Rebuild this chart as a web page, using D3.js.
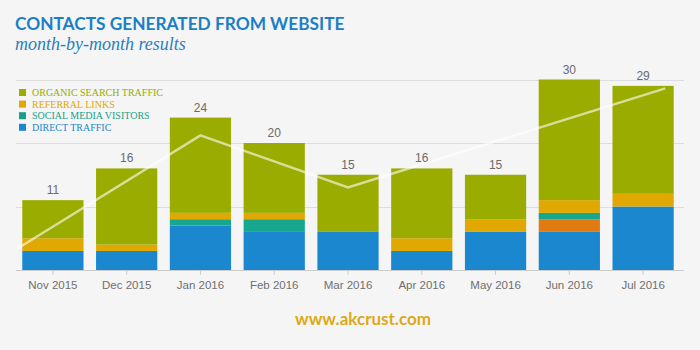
<!DOCTYPE html>
<html>
<head>
<meta charset="utf-8">
<script src="https://cdn.jsdelivr.net/npm/d3@7"></script>
<style>
  html, body { margin: 0; padding: 0; background: #f5f5f5; }
  svg { display: block; }
</style>
</head>
<body>
<div id="chart"></div>
<script>
// data
const months = ['Nov 2015', 'Dec 2015', 'Jan 2016', 'Feb 2016', 'Mar 2016', 'Apr 2016', 'May 2016', 'Jun 2016', 'Jul 2016'];
const directTraffic = [3, 3, 7, 6, 6, 3, 6, 6, 10];
const otherTraffic = [0, 0, 0, 0, 0, 0, 0, 2, 0];
const socialMedia = [0, 0, 1, 2, 0, 0, 0, 1, 0];
const referralLinks = [2, 1, 1, 1, 0, 2, 2, 2, 2];
const organicSearch = [6, 12, 15, 11, 9, 11, 7, 19, 17];
const totals = [11, 16, 24, 20, 15, 16, 15, 30, 29];
const yTicks = [10, 20, 30];

// the pale trend line (month index, value)
const trendIdx = [-0.49, 2, 4, 8.3];
const trendVal = [3.3, 21.2, 13, 28.6];

const seriesNames = ['DIRECT TRAFFIC', 'OTHER', 'SOCIAL MEDIA VISITORS', 'REFERRAL LINKS', 'ORGANIC SEARCH TRAFFIC'];
const seriesColors = ['#1a87cf', '#e07a12', '#17a68e', '#e0a800', '#9aac00'];
const legendItems = ['ORGANIC SEARCH TRAFFIC', 'REFERRAL LINKS', 'SOCIAL MEDIA VISITORS', 'DIRECT TRAFFIC'];

const width = 700;
const height = 350;

const svg = d3.select('#chart').append('svg')
    .attr('width', width)
    .attr('height', height);

svg.append('rect').attr('width', width).attr('height', height).attr('fill', '#f5f5f5');

const x = d3.scaleBand()
    .domain(months)
    .range([16, 680])
    .paddingInner(0.17)
    .paddingOuter(0.085);

const y = d3.scaleLinear()
    .domain([0, 30])
    .range([270, 79.5]);

// gridlines
svg.append('g')
    .selectAll('line')
    .data(yTicks)
    .join('line')
    .attr('x1', 16)
    .attr('x2', 684)
    .attr('y1', d => Math.round(y(d)) + 0.5)
    .attr('y2', d => Math.round(y(d)) + 0.5)
    .attr('stroke', '#dddddd');

// stacked bars
const rows = months.map((m, i) => ({
    month: m,
    s0: directTraffic[i],
    s1: otherTraffic[i],
    s2: socialMedia[i],
    s3: referralLinks[i],
    s4: organicSearch[i]
}));
const stack = d3.stack().keys(['s0', 's1', 's2', 's3', 's4']);
const stacked = stack(rows);

svg.append('g')
    .selectAll('g')
    .data(stacked)
    .join('g')
    .attr('fill', (d, i) => seriesColors[i])
    .selectAll('rect')
    .data(d => d)
    .join('rect')
    .attr('x', d => x(d.data.month))
    .attr('width', x.bandwidth())
    .attr('y', d => y(d[1]))
    .attr('height', d => y(d[0]) - y(d[1]));

// x axis
const xAxis = svg.append('g')
    .attr('transform', 'translate(0,270)')
    .call(d3.axisBottom(x).tickSize(5).tickPadding(6).tickSizeOuter(0));
xAxis.select('.domain').remove();
xAxis.append('line')
    .attr('x1', 16).attr('x2', 684)
    .attr('y1', 0.5).attr('y2', 0.5)
    .attr('stroke', '#cccccc');
xAxis.selectAll('.tick line').attr('stroke', '#cccccc');
xAxis.selectAll('.tick text')
    .attr('fill', '#6f6f6f')
    .style('font-family', '"Liberation Sans", Arial, sans-serif')
    .style('font-size', '11.5px');

// totals above bars
svg.append('g')
    .selectAll('text')
    .data(totals)
    .join('text')
    .attr('x', (d, i) => x(months[i]) + x.bandwidth() / 2)
    .attr('y', d => y(d) - 6)
    .attr('text-anchor', 'middle')
    .attr('fill', '#6a6a6a')
    .style('font-family', '"Liberation Sans", Arial, sans-serif')
    .style('font-size', '12px')
    .text(d => d);

// trend line
const xIdx = d3.scaleLinear()
    .domain([0, months.length - 1])
    .range([x(months[0]) + x.bandwidth() / 2, x(months[months.length - 1]) + x.bandwidth() / 2]);

const line = d3.line()
    .x(d => xIdx(d[0]))
    .y(d => y(d[1]));

svg.append('path')
    .datum(trendIdx.map((t, i) => [t, trendVal[i]]))
    .attr('d', line)
    .attr('fill', 'none')
    .attr('stroke', '#ffffff')
    .attr('stroke-opacity', 0.6)
    .attr('stroke-width', 2.5);

// legend
const legend = svg.append('g').attr('transform', 'translate(19,89)');
const legendColor = { 'ORGANIC SEARCH TRAFFIC': '#9aac00', 'REFERRAL LINKS': '#e0a800', 'SOCIAL MEDIA VISITORS': '#17a08a', 'DIRECT TRAFFIC': '#1a87cf' };
const item = legend.selectAll('g')
    .data(legendItems)
    .join('g')
    .attr('transform', (d, i) => `translate(0,${i * 11.6})`);
item.append('rect')
    .attr('width', 7)
    .attr('height', 7)
    .attr('fill', d => legendColor[d]);
item.append('text')
    .attr('x', 13)
    .attr('y', 7)
    .attr('fill', d => legendColor[d])
    .style('font-family', '"Liberation Serif", "Times New Roman", serif')
    .style('font-size', '10px')
    .text(d => d);

// titles
svg.append('text')
    .attr('x', 15)
    .attr('y', 30)
    .attr('fill', '#1a7fc5')
    .style('font-family', 'Lato, sans-serif')
    .style('font-weight', 700)
    .style('font-size', '17.3px')
    .text('CONTACTS GENERATED FROM WEBSITE');

svg.append('text')
    .attr('x', 15)
    .attr('y', 50)
    .attr('fill', '#2a7fc0')
    .style('font-family', '"Liberation Serif", serif')
    .style('font-style', 'italic')
    .style('font-size', '18px')
    .text('month-by-month results');

svg.append('text')
    .attr('x', 363)
    .attr('y', 325)
    .attr('text-anchor', 'middle')
    .attr('fill', '#dcaa14')
    .style('font-family', 'Lato, sans-serif')
    .style('font-weight', 700)
    .style('font-size', '17px')
    .text('www.akcrust.com');
</script>
</body>
</html>
